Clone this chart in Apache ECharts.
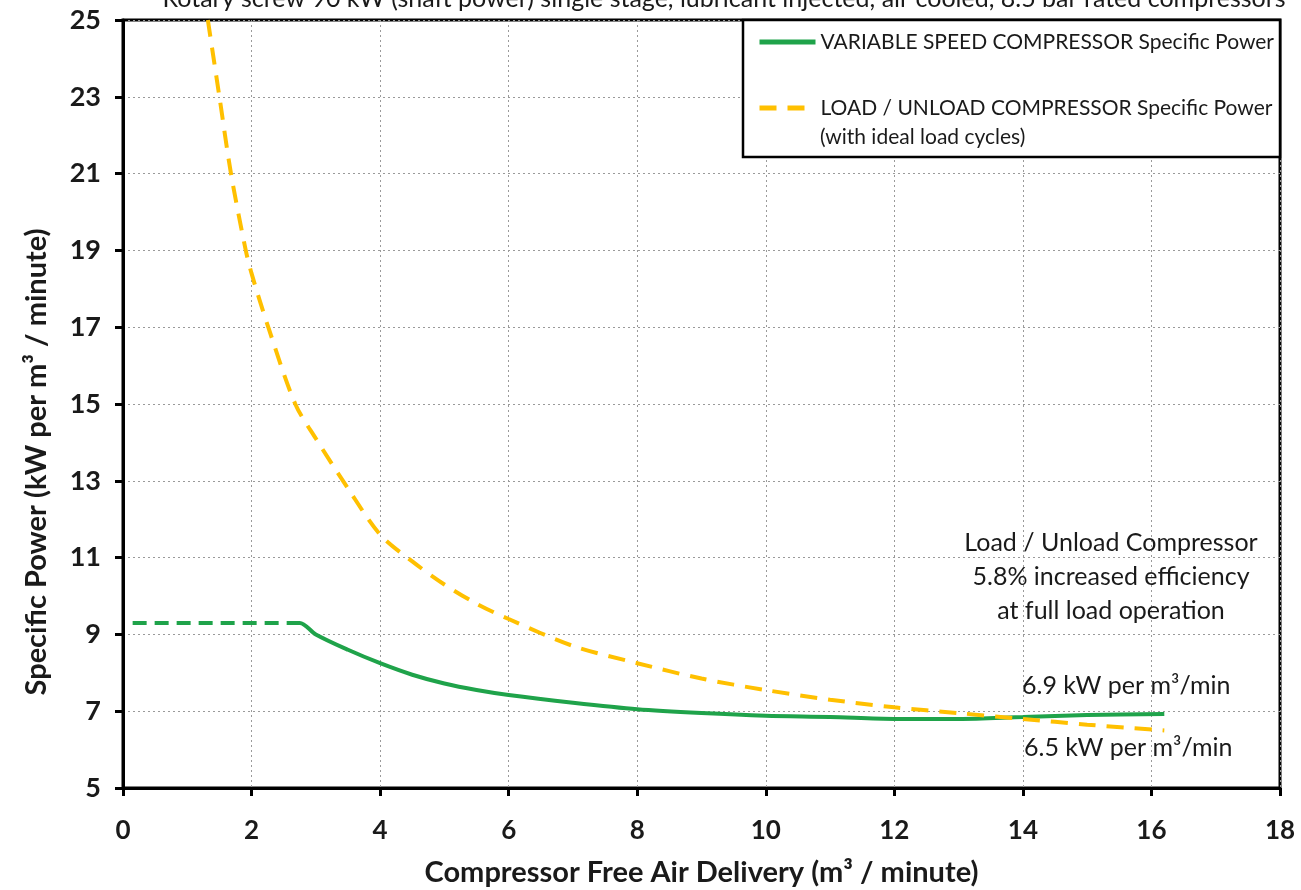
<!DOCTYPE html>
<html>
<head>
<meta charset="utf-8">
<script src="https://cdn.jsdelivr.net/npm/echarts@6/dist/echarts.min.js"></script>
<style>
  html, body { margin: 0; padding: 0; background: #fff; }
  #chart { width: 1301px; height: 890px; }
</style>
</head>
<body>
<div id="chart"></div>
<script>
// values
var vsdFlow = [2.55, 2.75, 3.0, 3.5, 4.0, 4.5, 5.0, 5.5, 6.0, 7.0, 8.0, 9.0, 10.0, 11.0, 12.0, 13.0, 14.0, 15.0, 16.2];
var vsdPower = [9.3, 9.3, 9.0, 8.6, 8.25, 7.95, 7.72, 7.55, 7.42, 7.22, 7.05, 6.95, 6.88, 6.85, 6.8, 6.8, 6.85, 6.9, 6.93];
var vsdMinFlow = [0.15, 2.55];
var vsdMinPower = [9.3, 9.3];
var luFlow = [1.32, 1.5, 1.68, 1.91, 2.0, 2.26, 2.68, 3.0, 3.5, 4.0, 4.5, 5.0, 5.5, 6.0, 7.0, 8.0, 9.0, 10.0, 11.0, 12.0, 13.0, 14.0, 15.0, 16.2];
var luPower = [25.0, 23.0, 21.0, 19.0, 18.4, 17.0, 15.0, 14.1, 12.8, 11.6, 10.9, 10.3, 9.8, 9.4, 8.7, 8.25, 7.85, 7.55, 7.3, 7.1, 6.95, 6.8, 6.65, 6.5];

var seriesNames = ['VARIABLE SPEED COMPRESSOR Specific Power', 'LOAD / UNLOAD COMPRESSOR Specific Power'];
var legendNote = '(with ideal load cycles)';
var titleText = 'Rotary screw 90 kW (shaft power) single stage, lubricant injected, air cooled, 8.5 bar rated compressors';

function pairs(xs, ys) {
  var out = [];
  for (var i = 0; i < xs.length; i++) out.push([xs[i], ys[i]]);
  return out;
}

var FONT = 'Lato';
var GREEN = '#1fa34a';
var GOLD = '#ffc000';
var INK = '#1a1a1a';

var chart = echarts.init(document.getElementById('chart'), null, { renderer: 'canvas' });

var option = {
  backgroundColor: '#ffffff',
  animation: false,
  title: {
    text: titleText,
    left: 719,
    top: -19,
    textAlign: 'center',
    textStyle: { fontFamily: FONT, fontSize: 25, fontWeight: 'normal', color: INK }
  },
  grid: {
    left: 123, right: 21, top: 20, bottom: 102,
    outerBoundsMode: 'none',
    show: true,
    borderColor: '#000',
    borderWidth: 3,
    backgroundColor: 'transparent'
  },
  legend: {
    data: seriesNames,
    orient: 'vertical',
    left: 757,
    top: 27,
    padding: 0,
    itemGap: 36,
    itemWidth: 56,
    itemHeight: 14,
    itemStyle: { opacity: 0 },
    lineStyle: { width: 5 },
    textStyle: { fontFamily: FONT, fontSize: 21, color: INK, lineHeight: 30 },
    z: 20
  },
  xAxis: {
    type: 'value',
    min: 0, max: 18, interval: 2,
    name: 'Compressor Free Air Delivery (m³ / minute)',
    nameLocation: 'middle',
    nameGap: 70,
    nameTextStyle: { fontFamily: FONT, fontSize: 29, fontWeight: 'bold', color: INK },
    axisLine: { onZero: false, lineStyle: { color: '#000', width: 3 } },
    axisTick: { show: true, length: 8, lineStyle: { color: '#000', width: 3 } },
    axisLabel: { margin: 30, fontFamily: FONT, fontSize: 26, fontWeight: 'bold', color: INK },
    splitLine: { show: true, lineStyle: { color: '#9a9a9a', width: 1, type: [2, 3] } }
  },
  yAxis: {
    type: 'value',
    min: 5, max: 25, interval: 2,
    name: 'Specific Power (kW per m³ / minute)',
    nameLocation: 'middle',
    nameGap: 72,
    nameTextStyle: { fontFamily: FONT, fontSize: 29, fontWeight: 'bold', color: INK, padding: [0, 116, 0, 0] },
    axisLine: { show: true, onZero: false, lineStyle: { color: '#000', width: 3 } },
    axisTick: { show: true, length: 8, lineStyle: { color: '#000', width: 3 } },
    axisLabel: { margin: 22, fontFamily: FONT, fontSize: 27, fontWeight: 'bold', color: INK },
    splitLine: { show: true, lineStyle: { color: '#9a9a9a', width: 1, type: [2, 3] } }
  },
  series: [
    {
      name: seriesNames[0],
      type: 'line',
      smooth: 0.3,
      symbol: 'none',
      data: pairs(vsdFlow, vsdPower),
      lineStyle: { color: GREEN, width: 4 },
      itemStyle: { color: GREEN },
      z: 3
    },
    {
      name: 'vsd-min',
      type: 'line',
      symbol: 'none',
      data: pairs(vsdMinFlow, vsdMinPower),
      lineStyle: { color: GREEN, width: 4, type: [14, 8] },
      itemStyle: { color: GREEN },
      z: 3
    },
    {
      name: seriesNames[1],
      type: 'line',
      smooth: 0.3,
      symbol: 'none',
      data: pairs(luFlow, luPower),
      lineStyle: { color: GOLD, width: 4, type: [17, 11] },
      itemStyle: { color: GOLD },
      z: 4
    }
  ],
  graphic: [
    {
      // legend box
      type: 'rect',
      shape: { x: 743, y: 20, width: 537, height: 137 },
      style: { fill: '#fff', stroke: '#000', lineWidth: 2.5 },
      z: 15
    },
    {
      type: 'text',
      x: 820, y: 127,
      style: { text: legendNote, fontFamily: FONT, fontSize: 21, fill: INK },
      z: 21
    },
    {
      type: 'text',
      x: 1111, y: 526,
      style: {
        text: 'Load / Unload Compressor\n5.8% increased efficiency\nat full load operation',
        fontFamily: FONT, fontSize: 25, lineHeight: 34, fill: INK, align: 'center'
      },
      z: 10
    },
    {
      type: 'text',
      x: 1022, y: 673,
      style: { text: '6.9 kW per m³/min', fontFamily: FONT, fontSize: 25, fill: INK },
      z: 10
    },
    {
      type: 'text',
      x: 1024, y: 735,
      style: { text: '6.5 kW per m³/min', fontFamily: FONT, fontSize: 25, fill: INK },
      z: 10
    }
  ]
};

chart.setOption(option);
</script>
</body>
</html>
